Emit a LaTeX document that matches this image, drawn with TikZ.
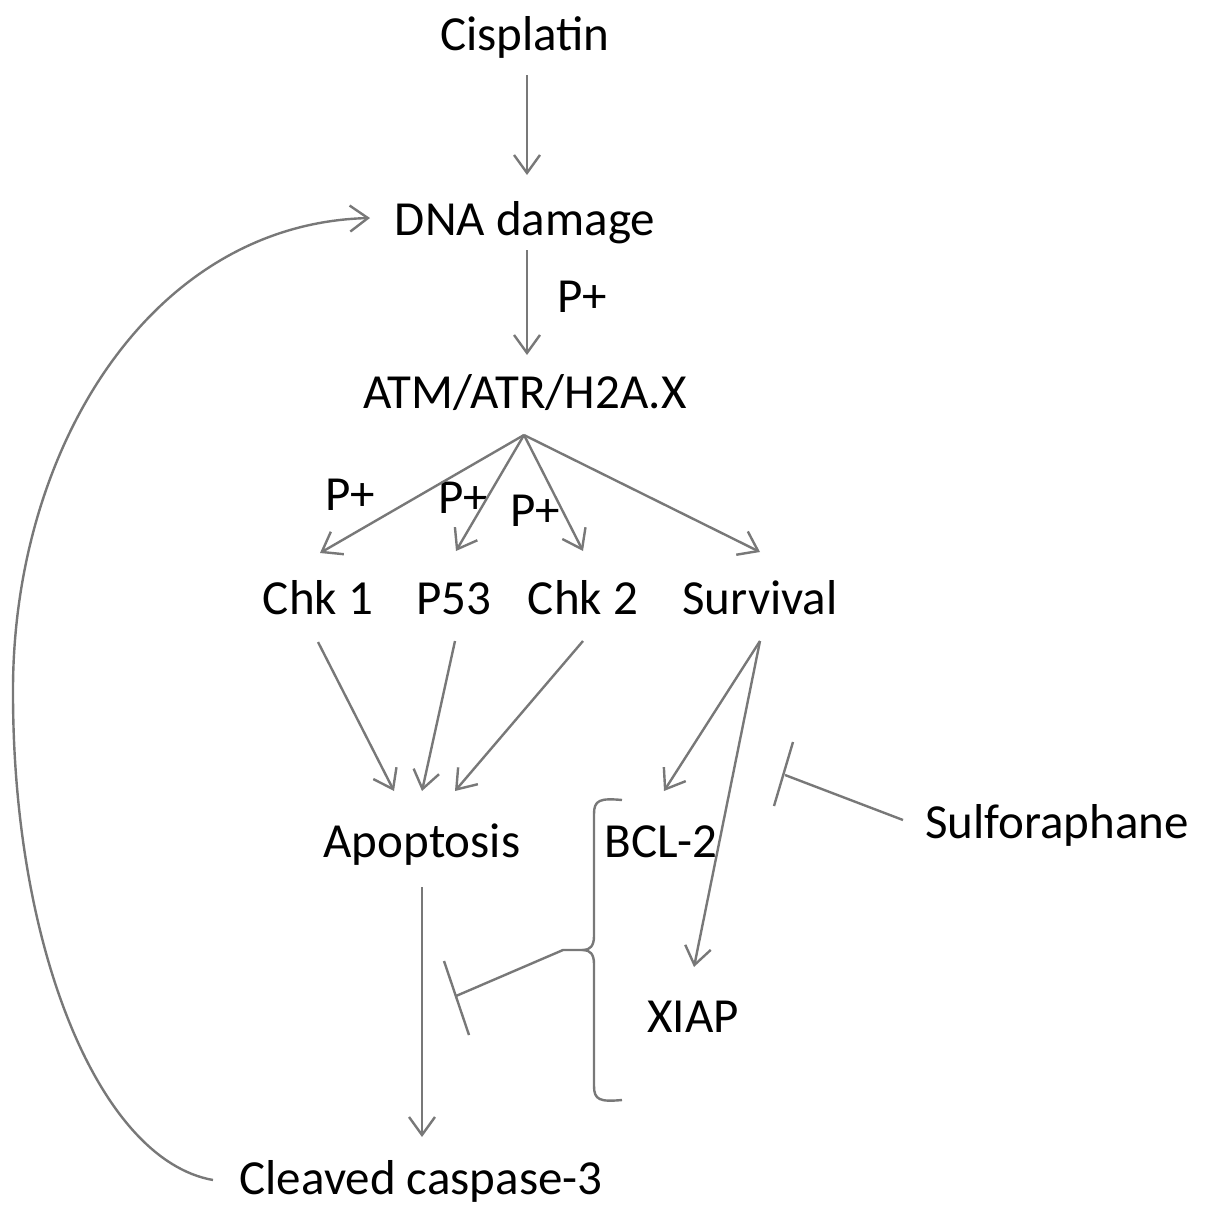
\documentclass[tikz,border=0pt]{standalone}
\usepackage{fontspec}
\setmainfont{Carlito}
\usetikzlibrary{arrows.meta}
\definecolor{linegray}{RGB}{120,120,120}
\begin{document}
\begin{tikzpicture}[x=1pt,y=-1pt,
  lbl/.style={anchor=base,inner sep=0pt,font=\fontsize{49}{58}\selectfont},
  conn/.style={draw=linegray,line width=2.4pt},
  arr/.style={conn,-{Straight Barb[length=18pt,width=26pt,line width=2.4pt]}},
  inh/.style={conn,line cap=butt}]
\useasboundingbox (0,0) rectangle (1205,1221);

% labels
\node[lbl] (cis) at (525,50) {Cisplatin};
\node[lbl] (dna) at (525,235) {DNA damage};
\node[lbl] (pa) at (582,312) {P+};
\node[lbl] (atm) at (525,408) {ATM/ATR/H2A.X};
\node[lbl] (pb) at (350,510) {P+};
\node[lbl] (pc) at (463,513) {P+};
\node[lbl] (pd) at (535,526) {P+};
\node[lbl] (chk1) at (318,614) {Chk 1};
\node[lbl] (p53) at (454,614) {P53};
\node[lbl] (chk2) at (583,614) {Chk 2};
\node[lbl] (surv) at (760,614) {Survival};
\node[lbl] (apo) at (422,857) {Apoptosis};
\node[lbl] (bcl) at (661,857) {BCL-2};
\node[lbl] (sul) at (1057,838) {Sulforaphane};
\node[lbl] (xiap) at (693,1032) {XIAP};
\node[lbl] (clv) at (421,1194) {Cleaved caspase-3};

% connector end points
\coordinate (cis-o) at (527,75);
\coordinate (dna-i) at (527,175);
\coordinate (dna-o) at (527,250);
\coordinate (atm-i) at (527,355);
\coordinate (atm-o) at (524,435);
\coordinate (chk1-i) at (320,553);
\coordinate (p53-i) at (456,551);
\coordinate (chk2-i) at (583,551);
\coordinate (surv-i) at (760,552);
\coordinate (chk1-o) at (318,642);
\coordinate (p53-o) at (455,641);
\coordinate (chk2-o) at (583,641);
\coordinate (surv-o) at (760,641);
\coordinate (apo-i1) at (394,791);
\coordinate (apo-i2) at (422,791);
\coordinate (apo-i3) at (455,791);
\coordinate (bcl-i) at (664,791);
\coordinate (xiap-i) at (694,967);
\coordinate (apo-o) at (422,887);
\coordinate (clv-i) at (422,1137);
\coordinate (clv-o) at (213,1180);
\coordinate (dna-l) at (370,218);
\coordinate (sul-o) at (903,820);
\coordinate (sul-t) at (785,775);
\coordinate (br-tip) at (583,950);
\coordinate (br-t) at (563,950);
\coordinate (inh-t) at (456,996);

% main chain
\draw[arr] (cis-o) -- (dna-i);
\draw[arr] (dna-o) -- (atm-i);
\draw[arr] (atm-o) -- (chk1-i);
\draw[arr] (atm-o) -- (p53-i);
\draw[arr] (atm-o) -- (chk2-i);
\draw[arr] (atm-o) -- (surv-i);
\draw[arr] (chk1-o) -- (apo-i1);
\draw[arr] (p53-o) -- (apo-i2);
\draw[arr] (chk2-o) -- (apo-i3);
\draw[arr] (surv-o) -- (bcl-i);
\draw[arr] (surv-o) -- (xiap-i);
\draw[arr] (apo-o) -- (clv-i);

% feedback loop
\draw[arr] (clv-o) .. controls (100,1160) and (13,950) .. (13,693)
  .. controls (12,450) and (150,224) .. (dna-l);

% sulforaphane inhibition
\draw[inh] (sul-o) -- (sul-t);
\draw[inh] (793,742) -- (774,806);

% bracket around BCL-2 / XIAP
\draw[conn] (622,800) .. controls (600,798) and (594,800) .. (594,814)
  -- (594,936) .. controls (594,946) and (590,950) .. (br-tip)
  .. controls (590,950) and (594,954) .. (594,964)
  -- (594,1086) .. controls (594,1100) and (600,1102) .. (622,1100);
\draw[inh] (br-tip) -- (br-t) -- (inh-t);
\draw[inh] (444,961) -- (469,1035);
\end{tikzpicture}
\end{document}
